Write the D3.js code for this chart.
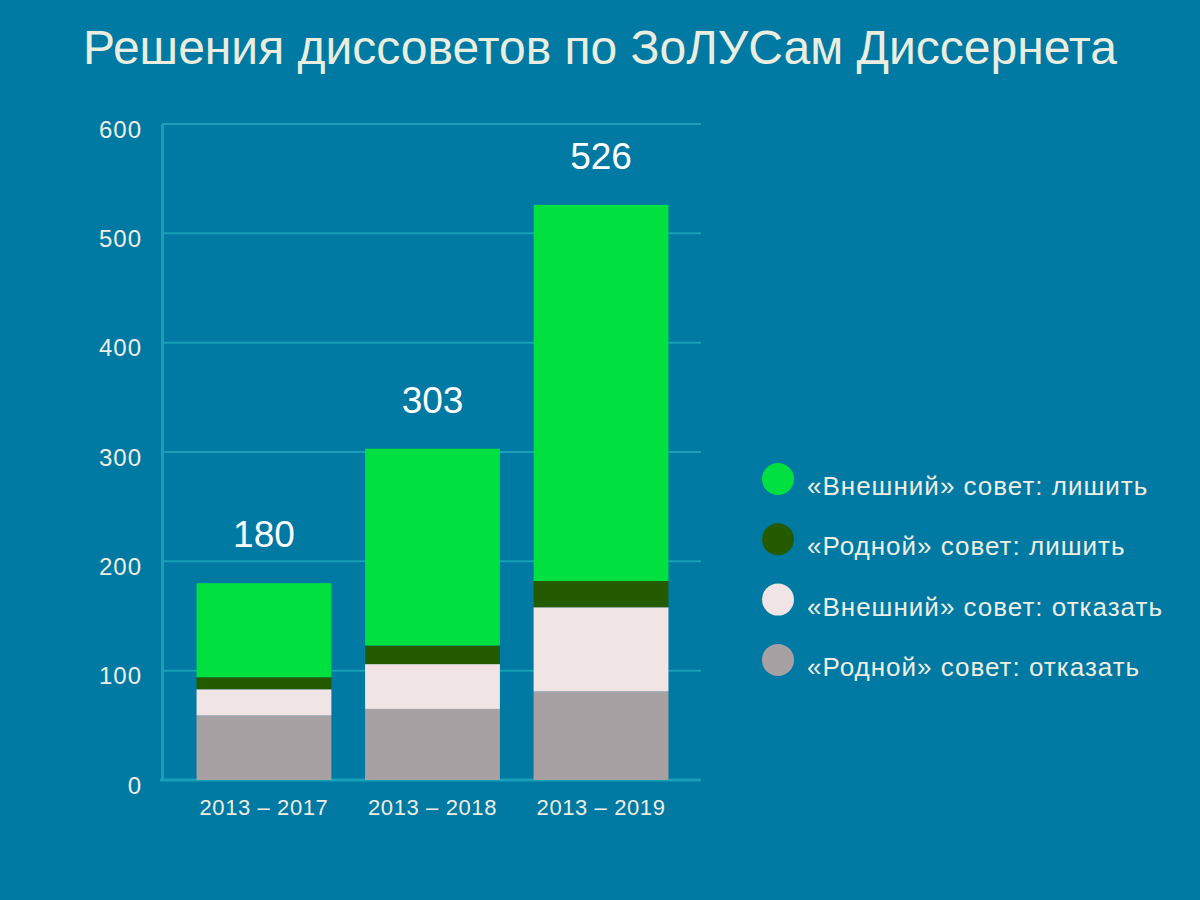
<!DOCTYPE html>
<html>
<head>
<meta charset="utf-8">
<script src="https://cdn.jsdelivr.net/npm/d3@7"></script>
<style>
    body { margin: 0; background: #0079a3; }
    svg { display: block; }
    text { font-family: "Liberation Sans", Arial, sans-serif; }
</style>
</head>
<body>
<div id="chart"></div>
<script>
const periods = ["2013 – 2017", "2013 – 2018", "2013 – 2019"];
const seriesNames = [
    "«Родной» совет: отказать",
    "«Внешний» совет: отказать",
    "«Родной» совет: лишить",
    "«Внешний» совет: лишить"
];
const rodnoyOtkaz = [59, 65, 81];
const vneshniyOtkaz = [24, 41, 77];
const rodnoyLishit = [11, 17, 24];
const vneshniyLishit = [86, 180, 344];
const totals = [180, 303, 526];
const yTicks = [0, 100, 200, 300, 400, 500, 600];
const colors = ["#a8a1a3", "#f0e4e4", "#255b00", "#00e040"];

const keys = ["ro", "vo", "rl", "vl"];
const data = periods.map((p, i) => ({
    period: p,
    ro: rodnoyOtkaz[i],
    vo: vneshniyOtkaz[i],
    rl: rodnoyLishit[i],
    vl: vneshniyLishit[i],
    total: totals[i]
}));

const W = 1200, H = 900;
const margin = { top: 124, right: 499, bottom: 120, left: 162 };
const width = W - margin.left - margin.right;
const height = H - margin.top - margin.bottom;

const svg = d3.select("#chart")
    .append("svg")
    .attr("width", W)
    .attr("height", H);

svg.append("rect")
    .attr("width", W)
    .attr("height", H)
    .attr("fill", "#0079a3");

svg.append("text")
    .attr("x", W / 2)
    .attr("y", 64)
    .attr("text-anchor", "middle")
    .attr("fill", "#e9eee0")
    .style("font-size", "48px")
    .text("Решения диссоветов по ЗоЛУСам Диссернета");

const g = svg.append("g")
    .attr("transform", `translate(${margin.left},${margin.top})`);

const x = d3.scaleBand()
    .domain(periods)
    .range([0, width + 2])
    .paddingInner(0.2)
    .paddingOuter(0.205);

const y = d3.scaleLinear()
    .domain([0, 600])
    .range([height, 0]);

// grid
g.append("g")
    .selectAll("line")
    .data(yTicks.filter(d => d > 0))
    .join("line")
    .attr("x1", 0)
    .attr("x2", width)
    .attr("y1", d => y(d))
    .attr("y2", d => y(d))
    .attr("stroke", "#17a0b6")
    .attr("stroke-width", 2);

const yAxis = d3.axisLeft(y)
    .tickValues(yTicks)
    .tickSize(0)
    .tickPadding(20);

g.append("g")
    .call(yAxis)
    .call(a => a.select(".domain").attr("stroke", "#17a0b6").attr("stroke-width", 3))
    .selectAll("text")
    .attr("fill", "#eeeee4")
    .attr("dy", "0.55em")
    .style("font-size", "24px")
    .style("letter-spacing", "1px");

g.append("line")
    .attr("x1", -2)
    .attr("x2", width)
    .attr("y1", height)
    .attr("y2", height)
    .attr("stroke", "#17a0b6")
    .attr("stroke-width", 3);

const stacked = d3.stack().keys(keys)(data);

g.append("g")
    .selectAll("g")
    .data(stacked)
    .join("g")
    .attr("fill", (d, i) => colors[i])
    .selectAll("rect")
    .data(d => d)
    .join("rect")
    .attr("x", d => x(d.data.period))
    .attr("width", x.bandwidth())
    .attr("y", d => y(d[1]))
    .attr("height", d => y(d[0]) - y(d[1]));

g.append("g")
    .attr("transform", `translate(0,${height})`)
    .call(d3.axisBottom(x).tickSize(0).tickPadding(19))
    .call(a => a.select(".domain").remove())
    .selectAll("text")
    .attr("fill", "#eeeee4")
    .style("font-size", "22px")
    .style("letter-spacing", "0.6px");

g.selectAll(".total")
    .data(data)
    .join("text")
    .attr("class", "total")
    .attr("x", d => x(d.period) + x.bandwidth() / 2)
    .attr("y", d => y(d.total) - 36)
    .attr("text-anchor", "middle")
    .attr("fill", "#ffffff")
    .style("font-size", "37px")
    .text(d => d.total);

// legend, top entry is the top of the stack
const legendItems = seriesNames.map((n, i) => ({ name: n, color: colors[i] })).reverse();

const legend = svg.append("g")
    .selectAll("g")
    .data(legendItems)
    .join("g")
    .attr("transform", (d, i) => `translate(778,${479 + i * 60.3})`);

legend.append("circle")
    .attr("r", 16)
    .attr("fill", d => d.color);

legend.append("text")
    .attr("x", 29)
    .attr("y", 16)
    .attr("fill", "#eeeee4")
    .style("font-size", "26px")
    .style("letter-spacing", "1px")
    .text(d => d.name);
</script>
</body>
</html>
